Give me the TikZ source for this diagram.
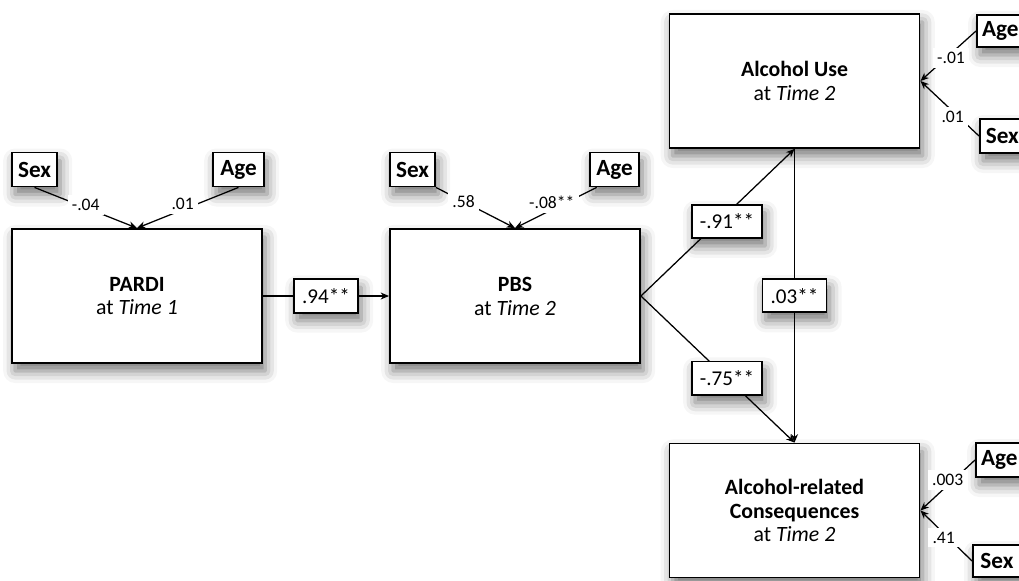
\documentclass[tikz,border=0pt]{standalone}
\usepackage{fontspec}
\setmainfont{Carlito}
\usetikzlibrary{arrows.meta, positioning, calc, shadows.blur}

\begin{document}
\begin{tikzpicture}[x=0.025cm, y=-0.025cm,
    >={Stealth[length=6pt, width=5pt]},
    soft/.style={blur shadow={shadow xshift=0.8mm, shadow yshift=-2mm, shadow blur radius=3mm, shadow opacity=55}},
    var/.style={draw, line width=1.3pt, fill=white, soft, minimum width=6.25cm, minimum height=3.35cm,
        align=center, font=\fontsize{15.5}{17}\selectfont},
    cov/.style={draw, line width=1.3pt, fill=white, soft, minimum height=0.85cm, inner xsep=3pt,
        font=\fontsize{16.5}{18}\selectfont\bfseries},
    coef/.style={draw, line width=1.3pt, fill=white, soft, minimum height=0.83cm, minimum width=1.6cm,
        font=\fontsize{15}{16}\selectfont},
    wlab/.style={fill=white, inner sep=3pt, font=\fontsize{12.5}{14}\selectfont},
    link/.style={->, line width=0.9pt}]

    \useasboundingbox (0,0) rectangle (1019,580);

    % Draw the main boxes
    \node[var] (pardi) at (137,296) {\textbf{PARDI}\\at \textit{Time 1}};
    \node[var] (pbs) at (515,296) {\textbf{PBS}\\at \textit{Time 2}};
    \node[var] (alc) at (794.5,81) {\textbf{Alcohol Use}\\at \textit{Time 2}};
    \node[var] (cons) at (794.5,510.5) {\textbf{Alcohol-related}\\\textbf{Consequences}\\at \textit{Time 2}};

    % Draw the covariates
    \node[cov, minimum width=1.125cm] (sexA) at (34.5,169.5) {Sex};
    \node[cov, minimum width=1.275cm] (ageA) at (238.5,169.5) {Age};
    \node[cov, minimum width=1.125cm] (sexB) at (412.5,169.5) {Sex};
    \node[cov, minimum width=1.225cm] (ageB) at (614.5,169.5) {Age};
    \node[cov, anchor=west, minimum width=1.17cm, minimum height=0.8cm] (ageU) at (976,31) {Age};
    \node[cov, anchor=west, minimum width=1.12cm] (sexU) at (979,136) {Sex};
    \node[cov, anchor=west, minimum width=1.17cm] (ageC) at (975,460) {Age};
    \node[cov, anchor=west, minimum width=1.2cm, minimum height=0.8cm] (sexC) at (972,561) {Sex};

    % Draw the covariate paths
    \draw[link] (sexA.south) -- node[wlab, yshift=2pt] {-.04} (pardi.north);
    \draw[link] (ageA.south) -- node[wlab, pos=0.55, yshift=4pt] {.01} (pardi.north);
    \draw[link] (sexB.south east) -- node[wlab, pos=0.35] {.58} (pbs.north);
    \draw[link] ($(ageB.south west)!0.15!(ageB.south east)$) -- node[wlab, pos=0.55, yshift=5pt] {-.08**} (pbs.north);
    \draw[link] (ageU.west) -- node[wlab, pos=0.45, yshift=-3pt] {-.01} (alc.east);
    \draw[link] (sexU.west) -- node[wlab, pos=0.45, yshift=-4pt] {.01} (alc.east);
    \draw[link] (ageC.west) -- node[wlab, pos=0.5, yshift=4pt] {.003} (cons.east);
    \draw[link] (sexC.west) -- node[wlab, pos=0.55, yshift=-3pt] {.41} (cons.east);

    % Draw the structural paths
    \draw[link] (pardi) -- node[coef] {.94**} (pbs);
    \draw[link] (pbs.east) -- node[coef, minimum width=1.75cm, pos=0.56, yshift=-5.5pt] {-.91**} (alc.south);
    \draw[link] (pbs.east) -- node[coef, minimum width=1.75cm, pos=0.56] {-.75**} (cons.north);
    \draw[link] (alc) -- node[coef] {.03**} (cons);
\end{tikzpicture}
\end{document}
